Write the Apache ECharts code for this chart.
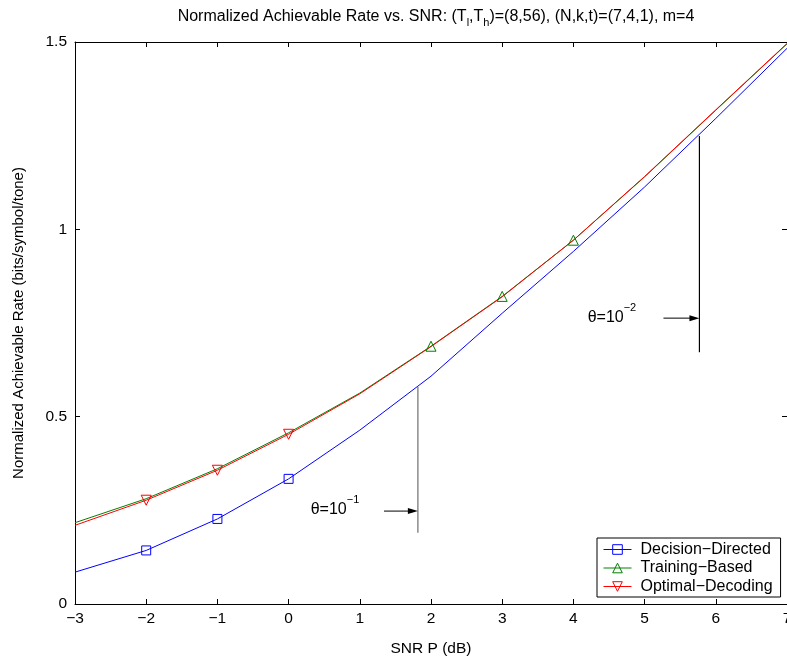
<!DOCTYPE html>
<html>
<head>
<meta charset="utf-8">
<script src="https://cdn.jsdelivr.net/npm/echarts@6/dist/echarts.min.js"></script>
<style>html,body{margin:0;padding:0;background:#fff}#c{width:787px;height:661px}</style>
</head>
<body>
<div id="c"></div>
<script>
const snr = [-3, -2, -1, 0, 1, 2, 3, 4, 5, 6, 7];
const decisionDirected = [0.085, 0.143, 0.227, 0.334, 0.464, 0.608, 0.776, 0.941, 1.113, 1.296, 1.483];
const trainingBased   = [0.217, 0.281, 0.361, 0.457, 0.563, 0.688, 0.821, 0.971, 1.140, 1.318, 1.495];
const optimalDecoding = [0.210, 0.277, 0.357, 0.453, 0.561, 0.687, 0.820, 0.971, 1.141, 1.319, 1.496];
const ddMarkers = [-2, -1, 0];
const tbMarkers = [2, 3, 4];
const odMarkers = [-2, -1, 0];
const xTicks = [-3, -2, -1, 0, 1, 2, 3, 4, 5, 6, 7];
const yTicks = [0, 0.5, 1, 1.5];
const seriesNames = ['Decision\u2212Directed', 'Training\u2212Based', 'Optimal\u2212Decoding'];
// annotations (data coordinates)
const thetaLabels = ['\u22121', '\u22122'];
const thetaLineX = [1.816, 5.77];
const thetaLineTop = [0.58, 1.249];
const thetaLineBottom = [0.19, 0.672];
const thetaArrowFromX = [1.34, 5.265];
const thetaArrowY = [0.248, 0.763];
const thetaTextX = [0.31, 4.20];
const thetaTextY = [0.262, 0.775];

const FONT = '"Liberation Sans", Arial, Helvetica, sans-serif';

function buildData(vals, marked) {
  return snr.map((x, i) => {
    const item = { value: [x, vals[i]] };
    if (marked.indexOf(x) < 0) item.symbol = 'none';
    return item;
  });
}

function lineSeries(name, vals, marked, color, symbol, rotate, size) {
  return {
    name: name,
    type: 'line',
    data: buildData(vals, marked),
    symbol: symbol,
    symbolSize: size,
    symbolRotate: rotate,
    showAllSymbol: true,
    lineStyle: { color: color, width: 1 },
    itemStyle: { color: 'rgba(255,255,255,0)', borderColor: color, borderWidth: 1 },
    emphasis: { disabled: true },
    animation: false,
    z: 2
  };
}

const chart = echarts.init(document.getElementById('c'), null, { renderer: 'canvas' });

const axisCommon = {
  axisLine: { show: true, onZero: false, lineStyle: { color: '#000', width: 1 } },
  axisTick: { show: true, inside: true, length: 5, lineStyle: { color: '#000' } },
  splitLine: { show: false }
};

const option = {
  animation: false,
  backgroundColor: '#fff',
  title: {
    text: '{n|Normalized Achievable Rate vs. SNR: (T}{sub|l}{n|,T}{sub|h}{n|)=(8,56), (N,k,t)=(7,4,1), m=4}',
    left: 431, top: 4, textAlign: 'center',
    textStyle: {
      fontFamily: FONT, fontSize: 16, fontWeight: 'normal', color: '#000',
      rich: {
        n: { fontFamily: FONT, fontSize: 16, color: '#000', verticalAlign: 'top', lineHeight: 18 },
        sub: { fontFamily: FONT, fontSize: 11, color: '#000', lineHeight: 12, padding: [10, 0, 0, 0] }
      }
    }
  },
  grid: { left: 75, right: 0, top: 42, bottom: 57, containLabel: false, outerBoundsMode: 'none' },
  legend: {
    data: seriesNames,
    orient: 'vertical',
    left: 597, top: 538,
    backgroundColor: '#fff',
    borderColor: '#000', borderWidth: 1, borderRadius: 0,
    padding: [3, 8, 2, 6],
    itemWidth: 28, itemHeight: 12, itemGap: 1.5,
    lineStyle: { width: 1 },
    itemStyle: { borderWidth: 1 },
    textStyle: { fontFamily: FONT, fontSize: 16, color: '#000', lineHeight: 17, padding: [0, 0, 0, 4] },
    selectedMode: false
  },
  xAxis: [
    Object.assign({}, axisCommon, {
      type: 'value', min: -3, max: 7, interval: 1, position: 'bottom',
      name: 'SNR P (dB)', nameLocation: 'middle', nameGap: 37,
      nameTextStyle: { fontFamily: FONT, fontSize: 15.5, color: '#000' },
      axisLabel: { fontFamily: FONT, fontSize: 15.5, color: '#000', margin: 7,
        formatter: v => String(v).replace('-', '\u2212') }
    }),
    Object.assign({}, axisCommon, {
      type: 'value', min: -3, max: 7, interval: 1, position: 'top',
      axisLabel: { show: false }
    })
  ],
  yAxis: [
    Object.assign({}, axisCommon, {
      type: 'value', min: 0, max: 1.5, interval: 0.5, position: 'left',
      name: 'Normalized Achievable Rate (bits/symbol/tone)', nameLocation: 'middle', nameGap: 49,
      nameTextStyle: { fontFamily: FONT, fontSize: 15, color: '#000' },
      axisLabel: { fontFamily: FONT, fontSize: 15.5, color: '#000', margin: 8 }
    }),
    Object.assign({}, axisCommon, {
      type: 'value', min: 0, max: 1.5, interval: 0.5, position: 'right',
      axisLabel: { show: false }
    })
  ],
  series: [
    lineSeries(seriesNames[0], decisionDirected, ddMarkers, '#0000ff', 'rect', 0, 9),
    lineSeries(seriesNames[1], trainingBased, tbMarkers, '#008000', 'triangle', 0, 10),
    lineSeries(seriesNames[2], optimalDecoding, odMarkers, '#ff0000', 'triangle', 180, 10)
  ]
};

chart.setOption(option);

const px = (x, y) => chart.convertToPixel({ xAxisIndex: 0, yAxisIndex: 0 }, [x, y]);
const graphics = [];
for (let i = 0; i < thetaLabels.length; i++) {
  const top = px(thetaLineX[i], thetaLineTop[i]);
  const bot = px(thetaLineX[i], thetaLineBottom[i]);
  const a0 = px(thetaArrowFromX[i], thetaArrowY[i]);
  const a1 = px(thetaLineX[i], thetaArrowY[i]);
  const t = px(thetaTextX[i], thetaTextY[i]);
  graphics.push({
    type: 'line', silent: true, z: 10,
    shape: { x1: top[0], y1: top[1], x2: bot[0], y2: bot[1] },
    style: { stroke: i === 0 ? '#6e6e6e' : '#000', lineWidth: 1.2 }
  });
  graphics.push({
    type: 'line', silent: true, z: 10,
    shape: { x1: a0[0], y1: a0[1], x2: a1[0] - 9, y2: a1[1] },
    style: { stroke: '#000', lineWidth: 1 }
  });
  graphics.push({
    type: 'polygon', silent: true, z: 10,
    shape: { points: [[a1[0] - 10, a1[1] - 3], [a1[0], a1[1]], [a1[0] - 10, a1[1] + 3]] },
    style: { fill: '#000' }
  });
  graphics.push({
    type: 'text', silent: true, z: 10,
    x: t[0], y: t[1],
    style: {
      text: '{b|\u03b8=10}{s|' + thetaLabels[i] + '}',
      verticalAlign: 'middle', align: 'left',
      rich: {
        b: { fontFamily: FONT, fontSize: 16, fill: '#000', padding: [7, 0, 0, 0] },
        s: { fontFamily: FONT, fontSize: 11, fill: '#000', verticalAlign: 'top' }
      }
    }
  });
}
chart.setOption({ graphic: graphics });
</script>
</body>
</html>
